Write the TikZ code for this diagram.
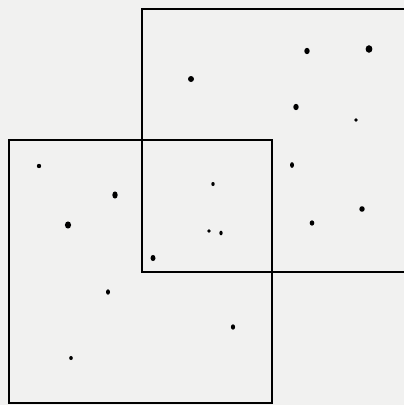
\documentclass[tikz,border=0pt]{standalone}
\definecolor{paper}{RGB}{241,241,240}
\begin{document}
\begin{tikzpicture}[x=1pt, y=-1pt,
    frame/.style={draw=black, line width=2.8pt},
    speck/.style={fill=black}]
    \fill[paper] (0,0) rectangle (404,405);
    \useasboundingbox (0,0) rectangle (404,405);
    % the two squares
    \draw[frame] (142,9) rectangle (408,272);
    \draw[frame] (9,140) rectangle (272,403);
    % dots
    \foreach \x/\y/\a/\b in {191/79/3/3, 307/51/2.7/3.2, 369/49/3.4/3.8, 296/107/2.7/3.2,
        356/120/1.8/1.8, 292/165/2/2.9, 362/209/2.7/2.8, 312/223/2.3/2.7,
        213/184/1.7/2, 209/231/1.9/1.9, 221/233/1.7/2.3, 153/258/2.5/3.1,
        39/166/2.2/2.2, 115/195/2.7/3.6, 68/225/3.1/3.6, 108/292/2/2.7,
        233/327/2.1/2.7, 71/358/1.8/2.1} {
        \fill[speck] (\x,\y) ellipse [x radius=\a, y radius=\b];
    }
\end{tikzpicture}
\end{document}
